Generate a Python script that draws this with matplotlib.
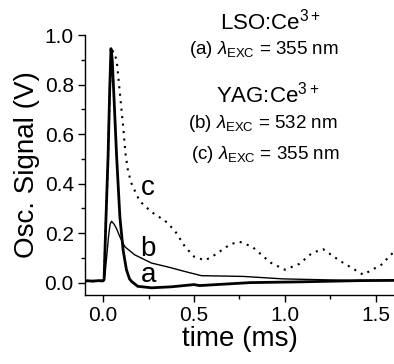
import matplotlib
matplotlib.use('Agg')
import matplotlib.pyplot as plt
from matplotlib.ticker import MultipleLocator

plt.rcParams['font.family'] = ['Liberation Sans', 'DejaVu Sans']
plt.rcParams['mathtext.fontset'] = 'custom'
plt.rcParams['mathtext.rm'] = 'Liberation Sans'
plt.rcParams['mathtext.it'] = 'Liberation Sans:italic'

# ── Data ─────────────────────────────────────────────────────────────────────
# (a) LSO:Ce3+, 355 nm
t_a = [-0.1, -0.06, -0.02, 0.0, 0.005, 0.015, 0.027, 0.036, 0.043, 0.05, 0.06,
       0.074, 0.092, 0.11, 0.128, 0.145, 0.156, 0.19, 0.266, 0.375, 0.5, 0.53,
       0.81, 1.08, 1.41, 1.6]
v_a = [0.008, 0.006, 0.008, 0.007, 0.012, 0.25, 0.51, 0.78, 0.945, 0.90, 0.74,
       0.51, 0.265, 0.13, 0.052, 0.015, 0.005, -0.015, -0.021, -0.017, -0.008, -0.012,
       0.0, 0.003, 0.008, 0.009]

# (b) YAG:Ce3+, 532 nm
t_b = [-0.1, 0.0, 0.01, 0.02, 0.03, 0.038, 0.046, 0.06, 0.073, 0.092, 0.119,
       0.174, 0.266, 0.357, 0.449, 0.54, 0.77, 0.99, 1.36, 1.6]
v_b = [0.008, 0.008, 0.03, 0.11, 0.19, 0.235, 0.248, 0.236, 0.219, 0.185, 0.145,
       0.112, 0.079, 0.063, 0.045, 0.028, 0.025, 0.015, 0.009, 0.009]

# (c) YAG:Ce3+, 355 nm
t_c = [-0.1, 0.0, 0.005, 0.015, 0.027, 0.037, 0.045, 0.055, 0.074, 0.092, 0.11,
       0.123, 0.137, 0.156, 0.2, 0.266, 0.34, 0.394, 0.45, 0.5, 0.56, 0.6, 0.64,
       0.7, 0.75, 0.82, 0.92, 1.0, 1.08, 1.15, 1.21, 1.3, 1.43, 1.53, 1.6]
v_c = [0.005, 0.006, 0.015, 0.25, 0.5, 0.78, 0.925, 0.935, 0.9, 0.765, 0.63,
       0.52, 0.45, 0.40, 0.33, 0.285, 0.25, 0.21, 0.145, 0.105, 0.09, 0.105, 0.125,
       0.155, 0.165, 0.145, 0.081, 0.052, 0.076, 0.12, 0.135, 0.089, 0.032, 0.072, 0.125]

fig = plt.figure(figsize=(3.94, 3.64), dpi=100)
ax = fig.add_axes([0.2157, 0.1896, 0.7843, 0.7142])

ax.plot(t_a, v_a, color='black', lw=2.0)
ax.plot(t_b, v_b, color='black', lw=1.0)
ax.plot(t_c, v_c, color='black', lw=1.5, linestyle=(0, (1, 2.6)))

ax.set_xlim(-0.1, 1.6)
ax.set_ylim(-0.05, 1.0)
ax.xaxis.set_major_locator(MultipleLocator(0.5))
ax.xaxis.set_minor_locator(MultipleLocator(0.25))
ax.yaxis.set_major_locator(MultipleLocator(0.2))
ax.yaxis.set_minor_locator(MultipleLocator(0.1))
ax.xaxis.set_major_formatter(plt.FormatStrFormatter('%.1f'))
ax.yaxis.set_major_formatter(plt.FormatStrFormatter('%.1f'))
for s in ['top', 'right']:
    ax.spines[s].set_visible(False)
for s in ['left', 'bottom']:
    ax.spines[s].set_linewidth(1.0)
ax.tick_params(which='major', direction='out', length=5, width=1.0, labelsize=15, pad=3)
ax.tick_params(which='minor', direction='out', length=3, width=1.0)

ax.set_xlabel('time (ms)', fontsize=20, labelpad=1)
ax.set_ylabel('Osc. Signal (V)', fontsize=20, labelpad=3)

# curve labels
def px(x, y):
    return x / 394, 1 - y / 364

for lbl, (x, y) in [('c', (148, 195)), ('b', (148, 256)), ('a', (149, 282))]:
    fig.text(*px(x, y), lbl, fontsize=20, ha='center', va='baseline')

fig.text(*px(270, 22), r'LSO:$\mathrm{Ce}^{3+}$', fontsize=16, ha='center', va='center')
fig.text(*px(264, 50), r'(a) $\lambda_{\rm EXC}$ = 355 nm', fontsize=13.5, ha='center', va='center')
fig.text(*px(268, 95), r'YAG:$\mathrm{Ce}^{3+}$', fontsize=16, ha='center', va='center')
fig.text(*px(263, 123), r'(b) $\lambda_{\rm EXC}$ = 532 nm', fontsize=13.5, ha='center', va='center')
fig.text(*px(265, 154), r'(c) $\lambda_{\rm EXC}$ = 355 nm', fontsize=13.5, ha='center', va='center')

fig.savefig('out.png', dpi=100)
